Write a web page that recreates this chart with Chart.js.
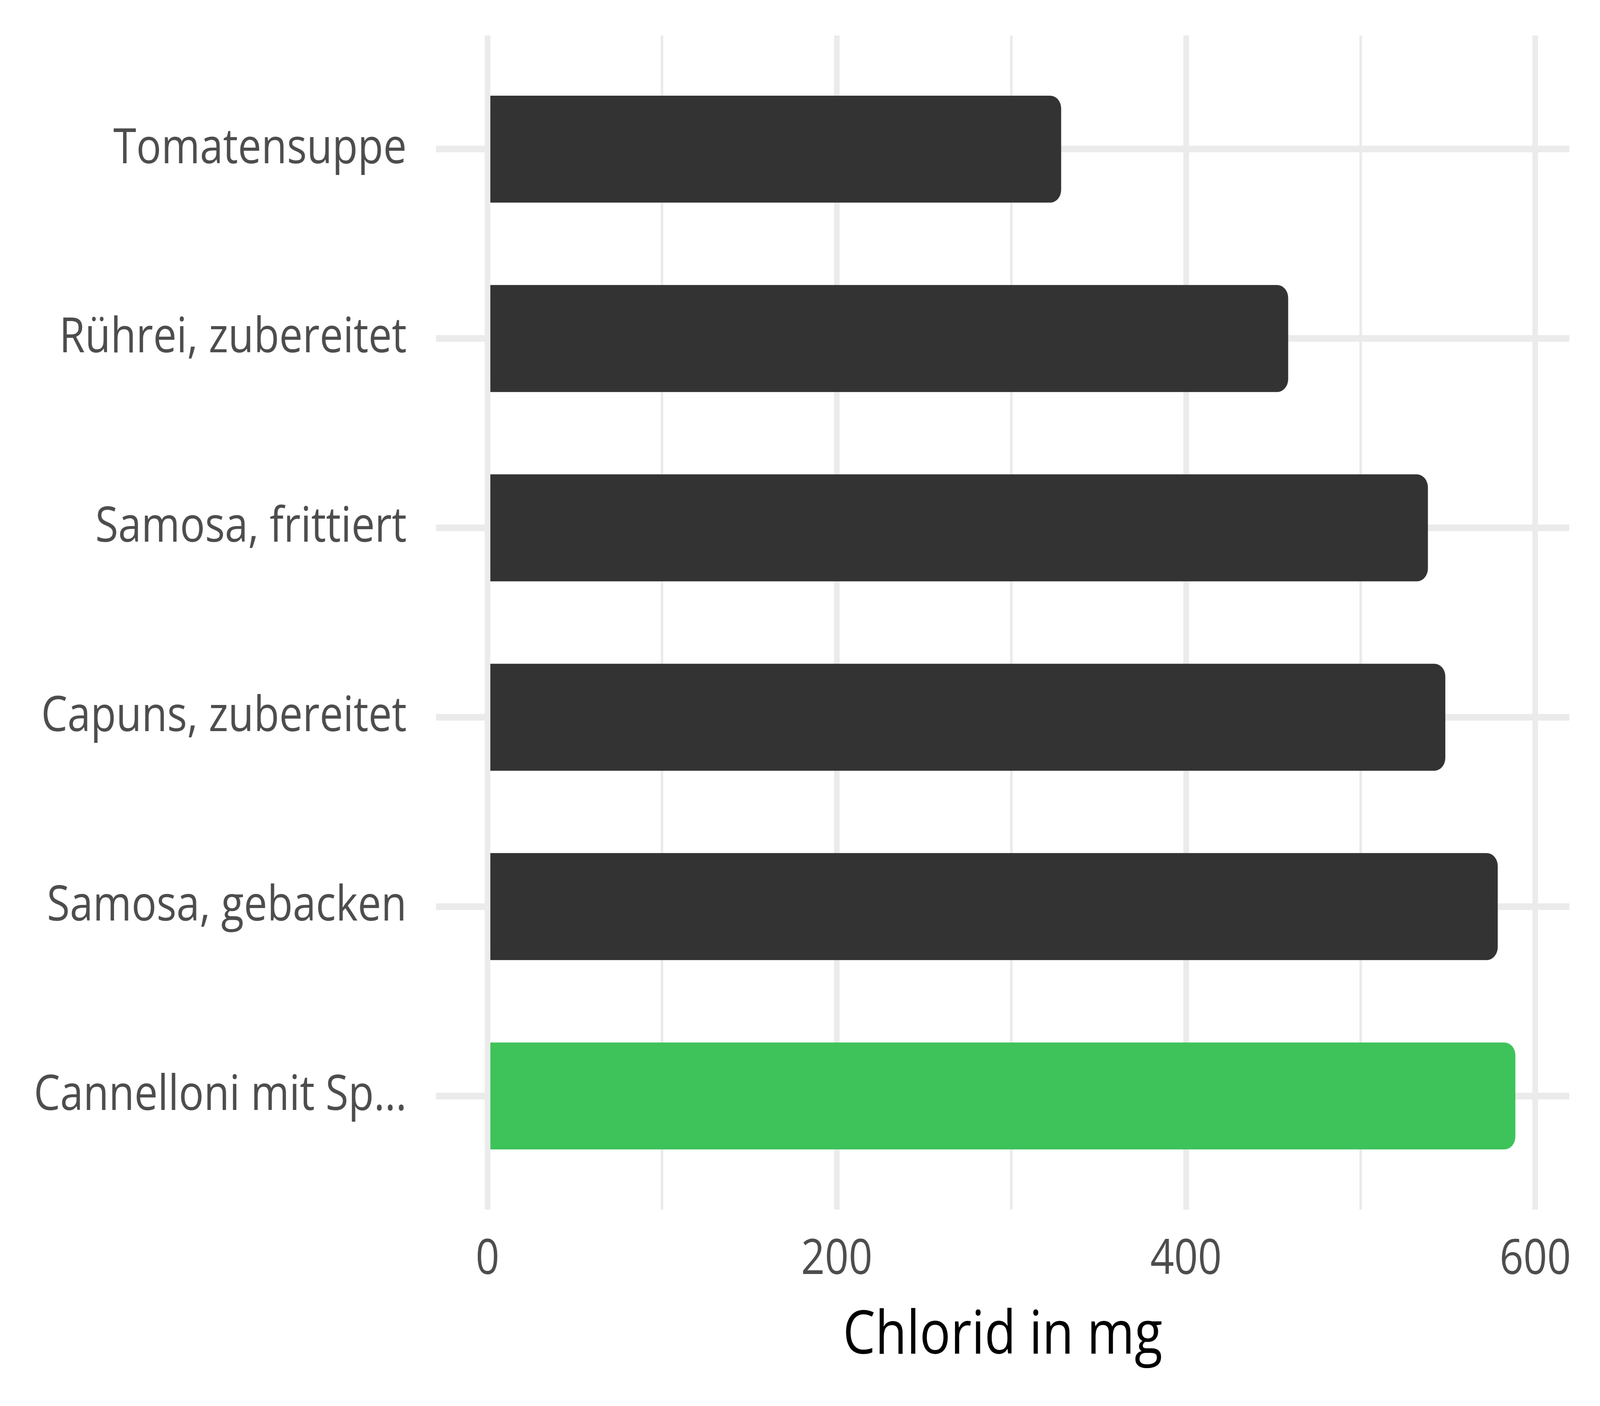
<!DOCTYPE html>
<html>
<head>
  <meta charset="UTF-8">
  <title>Chlorid in mg</title>
  <script src="https://cdn.jsdelivr.net/npm/chart.js"></script>
  <style>
    html, body {
      margin: 0;
      padding: 0;
      background: #fff;
      overflow: hidden;
    }
    #chart {
      display: block;
    }
  </style>
</head>
<body>

  <!-- drawn at 4800x3600, stretched to whatever the window really is -->
  <canvas id="chart" width="4800" height="3600" style="width:100vw;height:100vh"></canvas>

  <script>
    // data
    const categories = [
      "Tomatensuppe",
      "Rührei, zubereitet",
      "Samosa, frittiert",
      "Capuns, zubereitet",
      "Samosa, gebacken",
      "Cannelloni mit Sp..."
    ];
    const chlorid = [328.5, 458.5, 538.5, 548.5, 578.5, 588.6];
    const barColors = ["#333333", "#333333", "#333333", "#333333", "#333333", "#3EC35A"];
    const xTicks = [0, 100, 200, 300, 400, 500, 600];
    const xLabels = ["0", "", "200", "", "400", "", "600"];

    const GRID = "#EBEBEB";
    Chart.defaults.font.family = "'Open Sans', sans-serif";

    // keep Chart.js from reserving extra room for half labels
    const noPad = (scale) => {
      scale.paddingTop = 0;
      scale.paddingBottom = 0;
      scale.paddingLeft = 0;
      scale.paddingRight = 0;
    };

    const ctx = document.getElementById("chart").getContext("2d");

    const chart = new Chart(ctx, {
      type: "bar",
      data: {
        datasets: [{
          data: chlorid.map((v, i) => ({ x: v, y: i })),
          backgroundColor: barColors,
          borderWidth: 0,
          borderRadius: 33,
          barPercentage: 0.565,
          categoryPercentage: 1
        }]
      },
      options: {
        indexAxis: "y",
        responsive: false,
        animation: false,
        devicePixelRatio: 1,
        layout: {
          padding: { top: 91, right: 92, left: 0, bottom: 0 }
        },
        plugins: {
          legend: { display: false },
          tooltip: { enabled: false }
        },
        scales: {
          x: {
            type: "linear",
            min: -29.5,
            max: 619.5,
            afterBuildTicks: (scale) => {
              scale.ticks = xTicks.map(v => ({ value: v }));
            },
            afterFit: (scale) => { scale.height = 503; noPad(scale); },
            border: { display: false },
            grid: {
              color: GRID,
              lineWidth: (c) => (c.tick && c.tick.value % 200 === 0 ? 17 : 8),
              drawTicks: false
            },
            ticks: {
              autoSkip: false,
              maxRotation: 0,
              padding: 54,
              color: "#4D4D4D",
              font: { size: 125 },
              callback: (v) => xLabels[xTicks.indexOf(v)]
            },
            title: {
              display: true,
              text: "Chlorid in mg",
              color: "#000000",
              font: { size: 154 },
              padding: { top: 0, bottom: 85 }
            }
          },
          y: {
            type: "linear",
            min: -0.6,
            max: 5.6,
            reverse: true,
            offset: false,
            afterBuildTicks: (scale) => {
              scale.ticks = categories.map((c, i) => ({ value: i }));
            },
            afterFit: (scale) => { scale.width = 1308; noPad(scale); },
            border: { display: false },
            grid: {
              color: GRID,
              lineWidth: 17,
              offset: false,
              drawTicks: false
            },
            ticks: {
              autoSkip: false,
              padding: 88,
              color: "#4D4D4D",
              font: { size: 125 },
              callback: (v) => categories[v]
            }
          }
        }
      }
    });
  </script>

</body>
</html>
